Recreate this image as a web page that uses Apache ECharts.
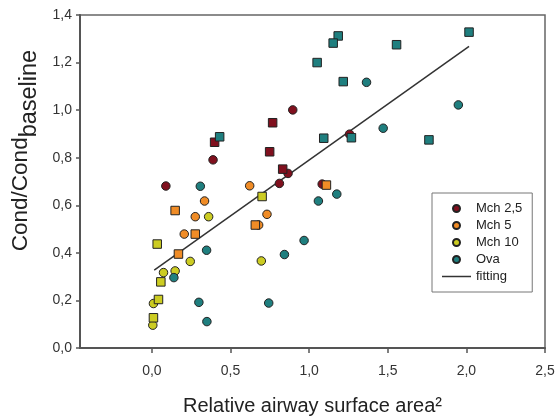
<!DOCTYPE html>
<html>
<head>
<meta charset="utf-8">
<script src="https://cdn.jsdelivr.net/npm/echarts@6/dist/echarts.min.js"></script>
<style>
html,body{margin:0;padding:0;background:#fff;}
#chart{width:556px;height:416px;}
</style>
</head>
<body>
<div id="chart"></div>
<script>
// ---- data ----
const mch25CircleX = [0.089, 0.389, 0.896, 1.257, 0.866, 0.811, 1.083];
const mch25CircleY = [0.681, 0.791, 1.001, 0.899, 0.734, 0.692, 0.689];
const mch25SquareX = [0.399, 0.768, 0.749, 0.832];
const mch25SquareY = [0.865, 0.947, 0.825, 0.752];

const mch5CircleX = [0.622, 0.335, 0.276, 0.206, 0.732, 0.679];
const mch5CircleY = [0.682, 0.618, 0.552, 0.479, 0.562, 0.517];
const mch5SquareX = [0.148, 0.276, 0.169, 0.658, 1.110];
const mch5SquareY = [0.578, 0.479, 0.395, 0.517, 0.685];

const mch10CircleX = [0.361, 0.244, 0.074, 0.148, 0.010, 0.006, 0.696];
const mch10CircleY = [0.552, 0.364, 0.317, 0.324, 0.187, 0.096, 0.366];
const mch10SquareX = [0.034, 0.701, 0.057, 0.042, 0.010];
const mch10SquareY = [0.437, 0.637, 0.278, 0.204, 0.127];

const ovaCircleX = [0.308, 0.348, 0.140, 0.299, 0.350, 0.743, 0.843, 0.968, 1.059, 1.176, 1.365, 1.471, 1.949];
const ovaCircleY = [0.680, 0.411, 0.296, 0.192, 0.111, 0.189, 0.393, 0.452, 0.618, 0.647, 1.117, 0.924, 1.022];
const ovaSquareX = [0.431, 1.185, 1.153, 1.556, 1.051, 1.217, 1.093, 1.269, 1.762, 2.017];
const ovaSquareY = [0.888, 1.312, 1.282, 1.275, 1.200, 1.120, 0.882, 0.884, 0.875, 1.328];

const fitX = [0.015, 2.017];
const fitY = [0.327, 1.268];

const xTicks = [0, 0.5, 1.0, 1.5, 2.0, 2.5];
const seriesNames = ['Mch 2,5', 'Mch 5', 'Mch 10', 'Ova', 'fitting'];
const colors = ['#80101e', '#f08c26', '#cccc22', '#1f7f7f'];

// ---- build ----
const zip = (xs, ys) => xs.map((x, i) => [x, ys[i]]);
const comma = v => v.toFixed(1).replace('.', ',');
const FONT = 'Liberation Sans, Arial, sans-serif';

const groups = [
  [mch25CircleX, mch25CircleY, mch25SquareX, mch25SquareY],
  [mch5CircleX, mch5CircleY, mch5SquareX, mch5SquareY],
  [mch10CircleX, mch10CircleY, mch10SquareX, mch10SquareY],
  [ovaCircleX, ovaCircleY, ovaSquareX, ovaSquareY]
];

const series = [{
  name: seriesNames[4],
  type: 'line',
  data: zip(fitX, fitY),
  symbol: 'none',
  z: 1,
  lineStyle: {color: '#333', width: 1.5},
  itemStyle: {color: '#333'}
}];
groups.forEach((g, i) => {
  series.push({
    name: seriesNames[i],
    type: 'scatter',
    data: zip(g[0], g[1]),
    symbol: 'circle',
    symbolSize: 8.5,
    z: 3,
    itemStyle: {color: colors[i], borderColor: '#222', borderWidth: 1, opacity: 1}
  });
  series.push({
    name: seriesNames[i] + ' sq',
    type: 'scatter',
    data: zip(g[2], g[3]),
    symbol: 'rect',
    symbolSize: 8.5,
    z: 3,
    itemStyle: {color: colors[i], borderColor: '#222', borderWidth: 1, opacity: 1}
  });
});

const chart = echarts.init(document.getElementById('chart'), null, {renderer: 'canvas'});
chart.setOption({
  animation: false,
  backgroundColor: '#fff',
  textStyle: {fontFamily: FONT},
  grid: {left: 80, right: 11, top: 15, bottom: 68, show: true, borderColor: '#666', borderWidth: 1.5,
         containLabel: false, outerBoundsMode: 'none'},
  legend: {
    orient: 'vertical',
    left: 432, top: 193,
    padding: [9, 10, 9, 10],
    borderColor: '#777', borderWidth: 1,
    itemWidth: 29, itemHeight: 7, itemGap: 4,
    symbolKeepAspect: true,
    textStyle: {fontSize: 13, color: '#222', fontFamily: FONT},
    data: [
      {name: seriesNames[0], icon: 'circle'},
      {name: seriesNames[1], icon: 'circle'},
      {name: seriesNames[2], icon: 'circle'},
      {name: seriesNames[3], icon: 'circle'},
      {name: seriesNames[4], icon: 'path://M0,0H29V1.5H0Z'}
    ]
  },
  xAxis: {
    type: 'value',
    min: -0.457, max: 2.5,
    name: 'Relative airway surface area²',
    nameLocation: 'middle',
    nameGap: 48,
    nameTextStyle: {fontSize: 20, color: '#222', fontFamily: FONT},
    axisLine: {show: true, onZero: false, lineStyle: {color: '#555', width: 2}},
    axisTick: {show: true, length: 5, lineStyle: {color: '#555', width: 1.5}, customValues: xTicks},
    axisLabel: {customValues: xTicks, formatter: comma, fontSize: 14, color: '#333', margin: 16},
    splitLine: {show: false}
  },
  yAxis: {
    type: 'value',
    min: 0, max: 1.4, interval: 0.2,
    name: '{a|Cond/Cond}{b|baseline}',
    nameLocation: 'middle',
    nameRotate: 90,
    nameGap: 36,
    nameTextStyle: {
      padding: [0, 0, 0, 62],
      rich: {
        a: {fontSize: 22.5, color: '#222', fontFamily: FONT},
        b: {fontSize: 23.5, color: '#222', fontFamily: FONT, padding: [18, 0, 0, 0]}
      }
    },
    axisLine: {show: true, onZero: false, lineStyle: {color: '#555', width: 2}},
    axisTick: {show: true, length: 4, lineStyle: {color: '#555', width: 1.5}},
    axisLabel: {formatter: comma, fontSize: 14, color: '#333', margin: 8},
    splitLine: {show: false}
  },
  series: series
});
</script>
</body>
</html>
